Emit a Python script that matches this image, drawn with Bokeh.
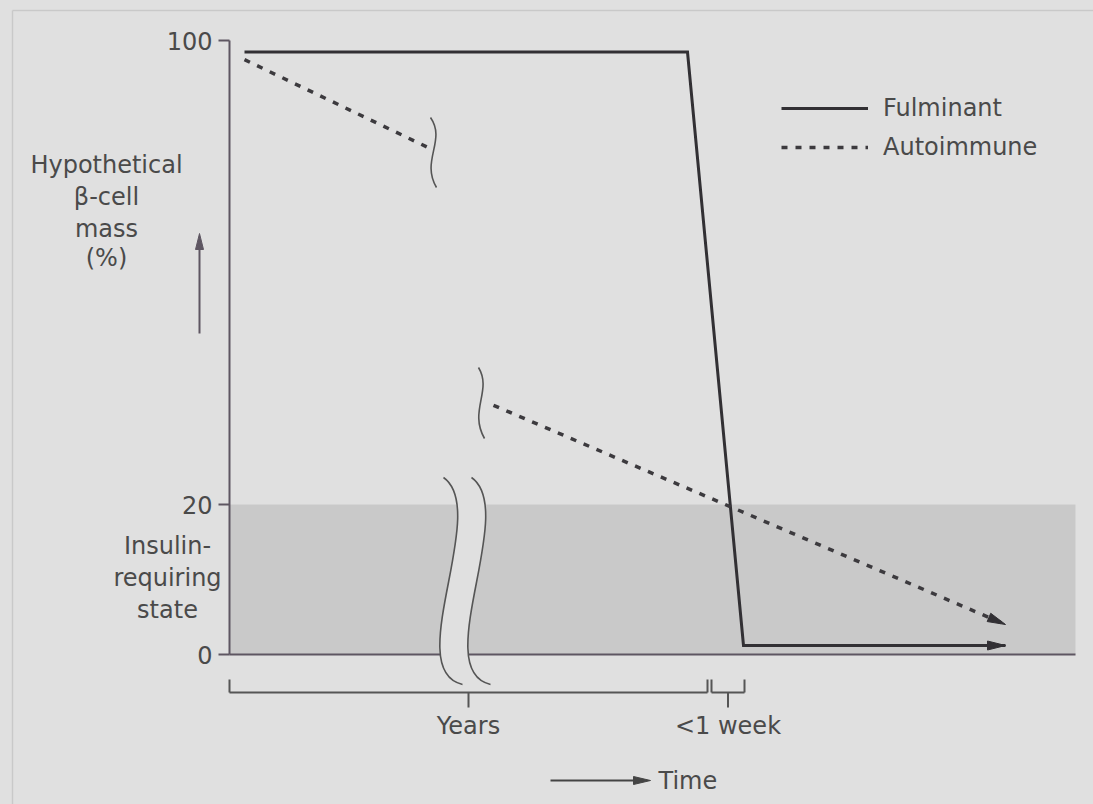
import numpy as np
from bokeh.plotting import figure
from bokeh.models import Range1d, LinearAxis, FixedTicker, Legend, LegendItem
from bokeh.core.properties import value
from bokeh.embed import file_html
from bokeh.resources import INLINE

# ---------------- data ----------------
series_names = ["Fulminant", "Autoimmune"]
# time in arbitrary (schematic) units, 0 = y axis
fulminant_time = [15, 458, 514, 776]
fulminant_mass = [98.0, 98.0, 1.2, 1.2]          # % beta-cell mass
autoimmune_early_time = [15, 198]
autoimmune_early_mass = [96.7, 81.6]
autoimmune_late_time = [264, 776]
autoimmune_late_mass = [37.1, 4.0]

mass_ticks = [0, 20, 100]
mass_tick_labels = ["0", "20", "100"]
insulin_threshold = 20
band_time_end = 846

period_labels = ["Years", "<1 week"]
period_start = [0, 482]
period_end = [478, 515]

ylabel_lines = ["Hypothetical", "\u03b2-cell", "mass", "(%)"]
insulin_lines = ["Insulin-", "requiring", "state"]

# ---------------- styles ----------------
BG = "#e0e0e0"
BAND = "#c9c9c9"
TXT = "#4a4a4a"
LINE = "#323034"
AXIS = "#5e5662"
FONT = "DejaVu Sans"
FS = "24px"


def ypos(pct):
    """Schematic (broken) vertical scale: 0-20 % is stretched relative to 20-100 %."""
    pct = np.asarray(pct, dtype=float)
    return np.where(pct <= insulin_threshold, pct * 7.5,
                    insulin_threshold * 7.5 + (pct - insulin_threshold) * 5.8)


def bez(P0, P1, P2, P3, n=50):
    t = np.linspace(0, 1, n)[:, None]
    P0, P1, P2, P3 = map(np.asarray, (P0, P1, P2, P3))
    pts = (1 - t) ** 3 * P0 + 3 * (1 - t) ** 2 * t * P1 + 3 * (1 - t) * t ** 2 * P2 + t ** 3 * P3
    return pts[:, 0], pts[:, 1]


def head(tip, frm, length=18, width=9):
    tip = np.asarray(tip, float)
    frm = np.asarray(frm, float)
    d = tip - frm
    d = d / np.hypot(*d)
    n = np.array([-d[1], d[0]])
    base = tip - d * length
    pts = [tip, base + n * width / 2, base - n * width / 2]
    return [q[0] for q in pts], [q[1] for q in pts]


p = figure(width=1093, height=804, x_range=Range1d(-229, 864), y_range=Range1d(-150, 654),
           x_axis_type=None, y_axis_type=None, output_backend="svg", toolbar_location=None,
           min_border=0, background_fill_color=BG, border_fill_color=BG,
           outline_line_color=None)
p.xgrid.visible = False
p.ygrid.visible = False

# faint scan frame
p.segment(x0=[-217, -217], y0=[644, 644], x1=[864, -217], y1=[644, -150],
          line_color="#c9c9c9", line_width=1.5)

# insulin-requiring band and time baseline
p.quad(left=0, right=band_time_end, bottom=float(ypos(0)), top=float(ypos(insulin_threshold)),
       fill_color=BAND, line_color=None)
p.segment(x0=0, y0=0, x1=band_time_end, y1=0, line_color=AXIS, line_width=2)

# big axis break through the band
lx, ly = bez((214, 177), (261, 144), (171, -16), (233, -30))
rx, ry = bez((242, 177), (289, 144), (199, -16), (261, -30))
p.patch(x=list(lx) + list(rx[::-1]), y=list(ly) + list(ry[::-1]), fill_color=BG, line_color=None)
p.bezier(x0=[214, 242], y0=[177, 177], x1=[233, 261], y1=[-30, -30],
         cx0=[261, 289], cy0=[144, 144], cx1=[171, 199], cy1=[-16, -16],
         line_color="#555555", line_width=1.6)
# small breaks on the autoimmune line
p.bezier(x0=[201, 249], y0=[537, 287], x1=[207, 255], y1=[467, 216],
         cx0=[217, 263], cy0=[514, 264], cx1=[191, 239], cy1=[494, 244],
         line_color="#555555", line_width=1.6)

# y axis
yaxis = LinearAxis(fixed_location=0,
                   ticker=FixedTicker(ticks=[float(v) for v in ypos(mass_ticks)]),
                   major_label_overrides={float(v): s for v, s in zip(ypos(mass_ticks), mass_tick_labels)},
                   bounds=(0, float(ypos(100))))
yaxis.axis_line_color = AXIS
yaxis.axis_line_width = 2
yaxis.major_tick_line_color = AXIS
yaxis.major_tick_line_width = 2
yaxis.major_tick_out = 11
yaxis.major_tick_in = 0
yaxis.minor_tick_line_color = None
yaxis.major_label_standoff = 6
yaxis.major_label_text_font = FONT
yaxis.major_label_text_font_size = FS
yaxis.major_label_text_color = TXT
p.add_layout(yaxis, "left")

# series
r_f = p.line(fulminant_time, ypos(fulminant_mass), line_color=LINE, line_width=3,
             line_join="miter")
hx, hy = head((fulminant_time[-1], float(ypos(fulminant_mass[-1]))),
              (fulminant_time[-2], float(ypos(fulminant_mass[-2]))))
p.patch(hx, hy, fill_color=LINE, line_color=LINE)

r_a1 = p.line(autoimmune_early_time, ypos(autoimmune_early_mass), line_color="#3c3a3e",
              line_width=3.5, line_dash="6 8")
p.line(autoimmune_late_time, ypos(autoimmune_late_mass), line_color="#3c3a3e",
       line_width=3.5, line_dash="6 8")
hx, hy = head((autoimmune_late_time[-1], float(ypos(autoimmune_late_mass[-1]))),
              (autoimmune_late_time[0], float(ypos(autoimmune_late_mass[0]))))
p.patch(hx, hy, fill_color=LINE, line_color=LINE)

# y labels
p.text(x=[-123] * 4, y=[490, 458, 426, 397], text=ylabel_lines, text_align="center",
       text_baseline="alphabetic", text_font=value(FONT), text_font_size=value(FS), text_color=TXT)
p.text(x=[-62] * 3, y=[109, 77, 45], text=insulin_lines, text_align="center",
       text_baseline="alphabetic", text_font=value(FONT), text_font_size=value(FS), text_color=TXT)
# upward arrow
p.segment(x0=-30, y0=321, x1=-30, y1=410, line_color=AXIS, line_width=2)
hx, hy = head((-30, 421), (-30, 321), length=16, width=8)
p.patch(hx, hy, fill_color=AXIS, line_color=AXIS)

# period brackets
ps = np.array(period_start, float)
pe = np.array(period_end, float)
mid = (ps + pe) / 2
p.segment(x0=ps, y0=-38, x1=pe, y1=-38, line_color="#555555", line_width=2)
p.segment(x0=ps, y0=-25, x1=ps, y1=-38, line_color="#555555", line_width=2)
p.segment(x0=pe, y0=-25, x1=pe, y1=-38, line_color="#555555", line_width=2)
p.segment(x0=mid, y0=-38, x1=mid, y1=-53, line_color="#555555", line_width=2)
p.text(x=mid, y=[-71, -71], text=period_labels, text_align="center", text_baseline="alphabetic",
       text_font=value(FONT), text_font_size=value(FS), text_color=TXT)

# time arrow
p.segment(x0=321, y0=-126, x1=410, y1=-126, line_color="#444444", line_width=2)
hx, hy = head((421, -126), (321, -126), length=17, width=8)
p.patch(hx, hy, fill_color="#444444", line_color="#444444")
p.text(x=[429], y=[-126], text=["Time"], text_align="left", text_baseline="middle",
       text_font=value(FONT), text_font_size=value(FS), text_color=TXT)

# legend
legend = Legend(items=[LegendItem(label=series_names[0], renderers=[r_f]),
                       LegendItem(label=series_names[1], renderers=[r_a1])],
                location=(781, 643), glyph_width=87, glyph_height=20, label_standoff=15,
                spacing=11, padding=0, margin=0, background_fill_alpha=0, border_line_alpha=0,
                label_text_font=FONT, label_text_font_size=FS, label_text_color=TXT)
p.add_layout(legend)

html = file_html(p, INLINE, title="Fulminant vs autoimmune beta-cell loss")
html = html.replace("</head>", "<style>html,body{background:#e0e0e0;}</style></head>", 1)
open("out.html", "w").write(html)
